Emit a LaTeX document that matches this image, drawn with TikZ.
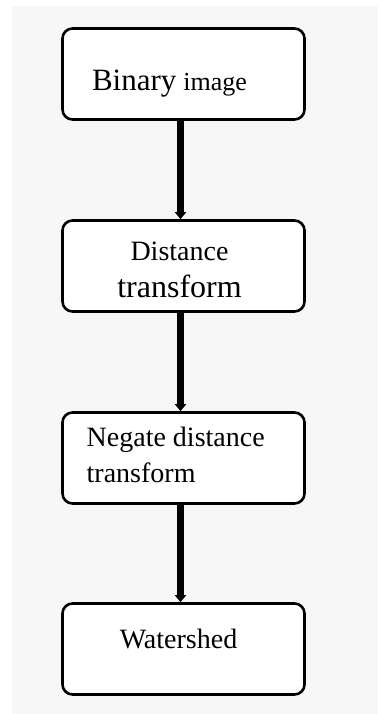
\documentclass[tikz,border=0pt]{standalone}
\usepackage{fontspec}
\setmainfont{Liberation Serif}
\usepackage{tikz}
\usetikzlibrary{arrows.meta, positioning}
\definecolor{flowPageBg}{RGB}{247,247,247}
\tikzset{
    flow/.style={x=1pt, y=-1pt, line cap=round, line join=round},
    stage/.style={draw=black, line width=2.6pt, rounded corners=10pt,
                  fill=white, minimum width=242pt, minimum height=91pt},
    stagetext/.style={font=\fontsize{28}{34}\selectfont, text=black,
                      inner sep=0pt, align=center},
    arrow/.style={-{Triangle[width=11pt, length=7pt]}, line width=7pt,
                  draw=black, line cap=butt},
}

\begin{document}
\begin{tikzpicture}[flow]

\useasboundingbox (0,0) rectangle (378,714);
\fill[flowPageBg] (12,6) rectangle (378,714);

% ─── Étapes ─────────────────────────────────────────────────────────────
\node[stage] (binary) at (183.5,74)  {};
\node[stage] (dist)   at (183.5,266) {};
\node[stage] (negate) at (183.5,458) {};
\node[stage] (water)  at (183.5,649) {};

% ─── Textes ─────────────────────────────────────────────────────────────
\node[stagetext] (binary-txt) at ([xshift=-14pt, yshift=-10pt]binary.center)
    {{\fontsize{31}{34}\selectfont Binary} {\fontsize{26}{30}\selectfont image}};
\node[stagetext, align=center] (dist-txt) at ([xshift=-4pt, yshift=-4pt]dist.center)
    {Distance\\[3pt]{\fontsize{32}{34}\selectfont transform}};
\node[stagetext, align=left, anchor=west] (negate-txt) at ([xshift=-97pt, yshift=3pt]negate.west -| negate.center)
    {Negate distance\\[2pt]transform};
\node[stagetext] (water-txt) at ([xshift=-5pt, yshift=10pt]water.center) {Watershed};

% ─── Flèches ────────────────────────────────────────────────────────────
\draw[arrow] ([xshift=-3pt]binary.south) -- ([xshift=-3pt]dist.north);
\draw[arrow] ([xshift=-3pt]dist.south)   -- ([xshift=-3pt]negate.north);
\draw[arrow] ([xshift=-3pt]negate.south) -- ([xshift=-3pt]water.north);

\end{tikzpicture}
\end{document}
